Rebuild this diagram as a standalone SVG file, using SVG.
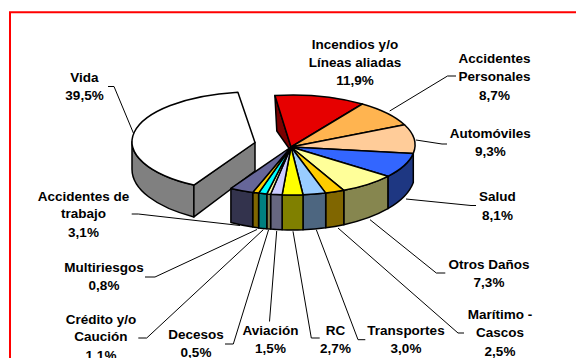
<svg xmlns="http://www.w3.org/2000/svg" width="576" height="358" viewBox="0 0 576 358">
<style>
.f{stroke:#000;stroke-width:1.5;stroke-linejoin:round}
.l{font-family:"Liberation Sans",Arial,sans-serif;font-weight:bold;font-size:13.5px;text-anchor:middle;fill:#000}
.ld{fill:none;stroke:#000;stroke-width:1}
</style>
<rect width="576" height="358" fill="#fff"/>
<path d="M10,360 V12.3 H580" fill="none" stroke="#FF0000" stroke-width="2"/>
<g id="vida">
<path class="f" fill="#808080" d="M132,141.7 A123,50 0 0 0 193.9,185.1 L193.9,216.9 A123,55 0 0 1 132,169.2 Z"/>
<path class="f" fill="#808080" d="M255,142.5 L193.9,185.1 L193.9,216.9 L255,171 Z"/>
<path class="f" fill="#fff" d="M255,142.5 L193.9,185.1 A123,50 0 0 1 237.9,92.2 Z"/>
<text class="l" x="84.5" y="82">Vida</text><text class="l" x="84.5" y="100">39,5%</text>
</g>
<g id="incendios">
<polygon class="f" fill="#7A0000" points="274.9,95.5 291,147 289.5,149 276.8,131"/>
<path class="f" fill="#E60000" d="M291,147 L274.9,95.5 A123,50 0 0 1 362.3,104 Z"/>
<text class="l" x="355" y="48.5">Incendios y/o</text><text class="l" x="355" y="66.5">Líneas aliadas</text><text class="l" x="355" y="84.5">11,9%</text>
</g>
<g id="accidentes-personales">
<path class="f" fill="#FFB450" d="M291,147 L362.3,104 A123,50 0 0 1 404.5,124.8 Z"/>
<text class="l" x="494.5" y="63.3">Accidentes</text><text class="l" x="494.5" y="81.3">Personales</text><text class="l" x="494.5" y="99.5">8,7%</text>
</g>
<g id="automoviles">
<path class="f" fill="#FFCC99" d="M291,147 L404.5,124.8 A123,50 0 0 1 413.3,153.4 Z"/>
<text class="l" x="490.3" y="137.7">Automóviles</text><text class="l" x="490.3" y="156">9,3%</text>
</g>
<g id="salud">
<path class="f" fill="#1E3782" d="M413.3,153.4 A123,50 0 0 1 387.9,176.3 L387.9,208.7 A123,57 0 0 0 413.3,182.5 Z"/>
<path class="f" fill="#3366FF" d="M291,147 L413.3,153.4 A123,50 0 0 1 387.9,176.3 Z"/>
<text class="l" x="497.5" y="201.3">Salud</text><text class="l" x="497.5" y="219.7">8,1%</text>
</g>
<g id="otros-danos">
<path class="f" fill="#86864F" d="M387.9,176.3 A123,50 0 0 1 343.8,190.3 L343.8,224.7 A123,57 0 0 0 387.9,208.7 Z"/>
<path class="f" fill="#FFFF99" d="M291,147 L387.9,176.3 A123,50 0 0 1 343.8,190.3 Z"/>
<text class="l" x="489" y="268.7">Otros Daños</text><text class="l" x="489" y="286.5">7,3%</text>
</g>
<g id="maritimo-cascos">
<path class="f" fill="#806600" d="M343.8,190.3 A123,50 0 0 1 325.7,193.1 L325.7,227.8 A123,57 0 0 0 343.8,224.7 Z"/>
<path class="f" fill="#FFCC00" d="M291,147 L343.8,190.3 A123,50 0 0 1 325.7,193.1 Z"/>
<text class="l" x="500" y="318.7">Marítimo -</text><text class="l" x="500" y="337.3">Cascos</text><text class="l" x="500" y="355.7">2,5%</text>
</g>
<g id="transportes">
<path class="f" fill="#4D6680" d="M325.7,193.1 A123,50 0 0 1 303,194.8 L303,229.8 A123,57 0 0 0 325.7,227.8 Z"/>
<path class="f" fill="#99CCFF" d="M291,147 L325.7,193.1 A123,50 0 0 1 303,194.8 Z"/>
<text class="l" x="406" y="334.7">Transportes</text><text class="l" x="406" y="353">3,0%</text>
</g>
<g id="rc">
<path class="f" fill="#808000" d="M303,194.8 A123,50 0 0 1 282.1,194.8 L282.1,229.8 A123,57 0 0 0 303,229.8 Z"/>
<path class="f" fill="#FFFF00" d="M291,147 L303,194.8 A123,50 0 0 1 282.1,194.8 Z"/>
<text class="l" x="335.5" y="334.7">RC</text><text class="l" x="335.5" y="353">2,7%</text>
</g>
<g id="aviacion">
<path class="f" fill="#666680" d="M282.1,194.8 A123,50 0 0 1 270.6,194.2 L270.6,229.1 A123,57 0 0 0 282.1,229.8 Z"/>
<path class="f" fill="#CCCCFF" d="M291,147 L282.1,194.8 A123,50 0 0 1 270.6,194.2 Z"/>
<text class="l" x="270.5" y="335">Aviación</text><text class="l" x="270.5" y="353">1,5%</text>
</g>
<g id="decesos">
<path class="f" fill="#808050" d="M270.6,194.2 A123,50 0 0 1 266.8,193.9 L266.8,228.8 A123,57 0 0 0 270.6,229.1 Z"/>
<path class="f" fill="#FFFF99" d="M291,147 L270.6,194.2 A123,50 0 0 1 266.8,193.9 Z"/>
<text class="l" x="196" y="338.7">Decesos</text><text class="l" x="196" y="357">0,5%</text>
</g>
<g id="credito-caucion">
<path class="f" fill="#008080" d="M266.8,193.9 A123,50 0 0 1 258.6,193.1 L258.6,227.9 A123,57 0 0 0 266.8,228.8 Z"/>
<path class="f" fill="#00FFFF" d="M291,147 L266.8,193.9 A123,50 0 0 1 258.6,193.1 Z"/>
<text class="l" x="101" y="323.7">Crédito y/o</text><text class="l" x="101" y="341.3">Caución</text><text class="l" x="101" y="359.5">1,1%</text>
</g>
<g id="multiriesgos">
<path class="f" fill="#806600" d="M258.6,193.1 A123,50 0 0 1 252.7,192.4 L252.7,227 A123,57 0 0 0 258.6,227.9 Z"/>
<path class="f" fill="#FFCC00" d="M291,147 L258.6,193.1 A123,50 0 0 1 252.7,192.4 Z"/>
<text class="l" x="104" y="272.3">Multiriesgos</text><text class="l" x="104" y="290">0,8%</text>
</g>
<g id="accidentes-trabajo">
<path class="f" fill="#33334D" d="M252.7,192.4 A123,50 0 0 1 230.9,188.4 L230.9,222.5 A123,57 0 0 0 252.7,227 Z"/>
<path class="f" fill="#666699" d="M291,147 L252.7,192.4 A123,50 0 0 1 230.9,188.4 Z"/>
<text class="l" x="83.5" y="200.7">Accidentes de</text><text class="l" x="83.5" y="218.3">trabajo</text><text class="l" x="83.5" y="236.5">3,1%</text>
</g>
<g id="connectors">
<polyline class="ld" points="108,86.5 114,86.5 133.5,133.3"/>
<polyline class="ld" points="456,76 447.5,76 389.7,111"/>
<polyline class="ld" points="416,140 442,144 447,144"/>
<polyline class="ld" points="406,199 471,205.5 476,205.5"/>
<polyline class="ld" points="370,219.7 436.3,273 445.3,273"/>
<polyline class="ld" points="338,228 458,333 464,333"/>
<polyline class="ld" points="316.3,229.7 358,339.7 365.3,339.7"/>
<polyline class="ld" points="293,231.3 311.3,338 319.7,338"/>
<polyline class="ld" points="276.7,231 269.5,321.5"/>
<polyline class="ld" points="268.5,230 233.3,344 225,344"/>
<polyline class="ld" points="263.3,229.7 146.7,338 138.3,338"/>
<polyline class="ld" points="257,229.5 155,277 145,277"/>
<polyline class="ld" points="240,225.5 138.3,214 131.7,214"/>
</g>
</svg>
